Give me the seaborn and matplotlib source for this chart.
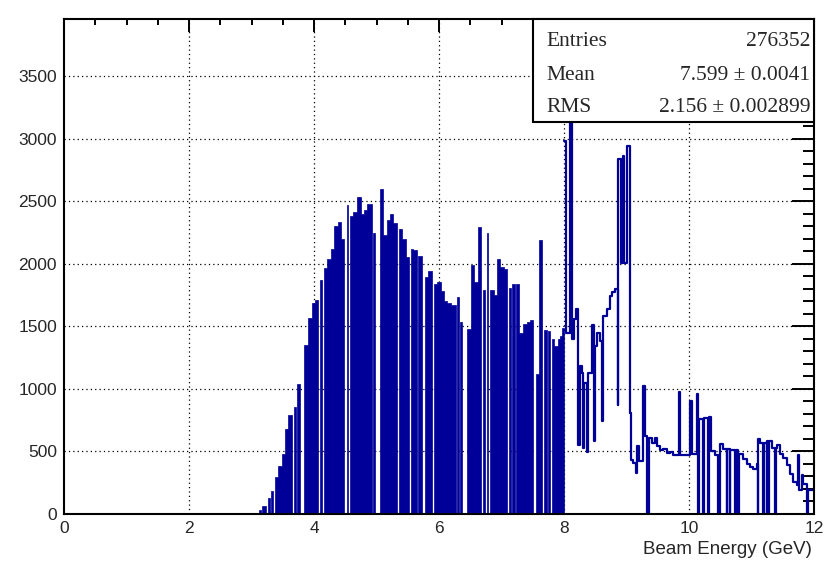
import matplotlib
matplotlib.use('Agg')
import numpy as np
import seaborn as sns
import matplotlib.pyplot as plt
from matplotlib.patches import Rectangle
from matplotlib.ticker import MultipleLocator


#-------------- data --------------
# low edge of every step (GeV) and its content, part drawn filled (up to 8 GeV)
fill_lo = [3.12, 3.15, 3.17, 3.23, 3.26, 3.30, 3.31, 3.35, 3.38, 3.43,
           3.48, 3.54, 3.59, 3.65, 3.685, 3.717, 3.733, 3.771, 3.845, 3.909,
           3.963, 4.016, 4.069, 4.096, 4.133, 4.155, 4.213, 4.267, 4.320, 4.379,
           4.432, 4.485, 4.523, 4.549, 4.576, 4.629, 4.688, 4.75, 4.80, 4.853,
           4.923, 4.939, 4.976, 5.056, 5.109, 5.163, 5.216, 5.269, 5.333, 5.360,
           5.403, 5.467, 5.520, 5.552, 5.589, 5.643, 5.669, 5.723, 5.781, 5.829,
           5.883, 5.920, 5.963, 6.027, 6.080, 6.133, 6.192, 6.267, 6.283, 6.320,
           6.336, 6.373, 6.453, 6.512, 6.565, 6.629, 6.672, 6.699, 6.736, 6.763,
           6.789, 6.816, 6.875, 6.928, 6.981, 7.035, 7.093, 7.120, 7.152, 7.173,
           7.216, 7.232, 7.285, 7.349, 7.403, 7.456, 7.509, 7.547, 7.600, 7.653,
           7.685, 7.723, 7.739, 7.776, 7.803, 7.845, 7.899, 7.936, 7.973]
fill_counts = [35, 0, 63, 0, 124, 0, 184, 0, 295, 387,
               479, 676, 794, 0, 855, 0, 1039, 0, 1354, 1570,
               1688, 1715, 0, 1873, 0, 1970, 2036, 2122, 2306, 2338,
               2201, 0, 2470, 0, 2385, 2417, 2535, 2400, 2430, 2477,
               0, 2246, 0, 2596, 2228, 2351, 2399, 2325, 0, 2280,
               2201, 2057, 0, 2122, 2109, 0, 2062, 0, 1899, 1944,
               0, 1838, 1852, 1781, 1702, 1688, 1670, 0, 1733, 0,
               1536, 0, 1480, 1991, 1859, 2293, 0, 1794, 0, 2246,
               0, 1794, 1749, 2036, 1978, 1957, 0, 1807, 0, 1838,
               0, 1838, 1444, 1518, 1536, 1549, 0, 1123, 2188, 0,
               1473, 0, 1465, 0, 1399, 1341, 1399, 1425, 1491]
fill_end = 8.00

# part drawn as outline only (8 - 12 GeV)
line_lo = [8.00, 8.03, 8.10, 8.12, 8.16, 8.19, 8.23, 8.25, 8.28, 8.30,
           8.32, 8.36, 8.39, 8.45, 8.48, 8.50, 8.52, 8.57, 8.61, 8.63,
           8.68, 8.74, 8.77, 8.82, 8.86, 8.87, 8.91, 8.94, 8.96, 9.00,
           9.05, 9.07, 9.10, 9.15, 9.16, 9.20, 9.26, 9.30, 9.33, 9.36,
           9.40, 9.45, 9.49, 9.53, 9.59, 9.64, 9.70, 9.75, 9.80, 9.84,
           9.86, 9.92, 9.99, 10.02, 10.04, 10.12, 10.15, 10.16, 10.23, 10.24,
           10.31, 10.32, 10.35, 10.42, 10.47, 10.49, 10.55, 10.60, 10.61, 10.65,
           10.66, 10.74, 10.75, 10.79, 10.80, 10.86, 10.92, 10.97, 11.03, 11.08,
           11.10, 11.11, 11.14, 11.19, 11.20, 11.24, 11.25, 11.27, 11.28, 11.32,
           11.38, 11.39, 11.40, 11.45, 11.51, 11.56, 11.61, 11.67, 11.72, 11.745,
           11.755, 11.80, 11.82, 11.89, 11.90]
line_counts = [2980, 1450, 3600, 1400, 1556, 1636, 550, 1182, 1128, 527,
               1048, 492, 1128, 1511, 580, 1342, 1449, 1380, 741, 1583,
               1636, 1743, 1776, 1797, 874, 2840, 2010, 2866, 2010, 2947,
               810, 433, 406, 326, 540, 420, 1021, 620, 0, 607,
               567, 607, 540, 513, 520, 487, 495, 473, 470, 979,
               470, 475, 470, 907, 481, 960, 0, 761, 0, 766,
               0, 774, 500, 468, 0, 561, 521, 0, 516, 0,
               508, 0, 508, 0, 481, 442, 402, 375, 362, 400,
               0, 601, 569, 0, 569, 0, 580, 0, 580, 527,
               0, 530, 553, 481, 447, 388, 322, 255, 229, 468,
               189, 309, 242, 0, 189]
line_end = 12.0

stats_names = ['Entries', 'Mean', 'RMS']
stats_values = ['276352', '7.599 \u00b1 0.0041', '2.156 \u00b1 0.002899']

xlabel = 'Beam Energy (GeV)'
blue = '#000099'


#-------------- plot --------------
sns.set_style('white')
plt.rcParams['font.family'] = ['Liberation Sans', 'DejaVu Sans']

fig = plt.figure(figsize=(8.27, 5.73), dpi=100)
ax = fig.add_axes([0.0774, 0.1030, 0.9069, 0.8639])


def draw_part(lo, counts, end, fill):
    edges = list(lo) + [end]
    centers = [(a + b) / 2 for a, b in zip(edges[:-1], edges[1:])]
    if fill:
        sns.histplot(x=centers, weights=counts, bins=edges, element='step',
                     fill=True, color=blue, edgecolor=blue, alpha=1,
                     linewidth=0.5, ax=ax, zorder=2)
    else:
        sns.histplot(x=centers, weights=counts, bins=edges, element='step',
                     fill=False, color=blue, linewidth=1.6, ax=ax, zorder=2)


draw_part(fill_lo, fill_counts, fill_end, True)
draw_part(line_lo, line_counts, line_end, False)

# dotted grid behind the histogram
for yv in range(500, 4000, 500):
    ax.axhline(yv, color='black', lw=0.9, ls=(0, (1, 2.5)), zorder=0.5)
for xv in range(2, 12, 2):
    ax.axvline(xv, color='black', lw=0.9, ls=(0, (1, 2.5)), zorder=0.5)

ax.set_xlim(0, 12)
ax.set_ylim(0, 3960)
ax.set_xlabel('')
ax.set_ylabel('')

ax.xaxis.set_major_locator(MultipleLocator(2))
ax.xaxis.set_minor_locator(MultipleLocator(0.5))
ax.yaxis.set_major_locator(MultipleLocator(500))
ax.yaxis.set_minor_locator(MultipleLocator(100))
ax.tick_params(which='both', direction='in', top=True, right=True,
               width=1.4, color='black', labelsize=12.5, pad=5)
ax.tick_params(axis='x', which='major', length=9)
ax.tick_params(axis='x', which='minor', length=4)
ax.tick_params(axis='y', which='major', length=16)
ax.tick_params(axis='y', which='minor', length=8)
for sp in ax.spines.values():
    sp.set_linewidth(1.5)
    sp.set_color('black')

fig.text(812 / 827, 1 - 549 / 573, xlabel, ha='right', va='center', fontsize=13.5)

# stats box
box = Rectangle((0.6253, 0.7928), 0.3747, 0.2072, transform=ax.transAxes,
                facecolor='white', edgecolor='black', lw=1.5, zorder=10, clip_on=False)
ax.add_patch(box)
rows_y = [0.955, 0.886, 0.822]
for name, val, yy in zip(stats_names, stats_values, rows_y):
    ax.text(0.6427, yy, name, transform=ax.transAxes, ha='left', va='center',
            fontsize=15.5, family='Liberation Serif', zorder=11)
    ax.text(0.9947, yy, val, transform=ax.transAxes, ha='right', va='center',
            fontsize=15.5, family='Liberation Serif', zorder=11)

fig.savefig('out.png', dpi=100)
